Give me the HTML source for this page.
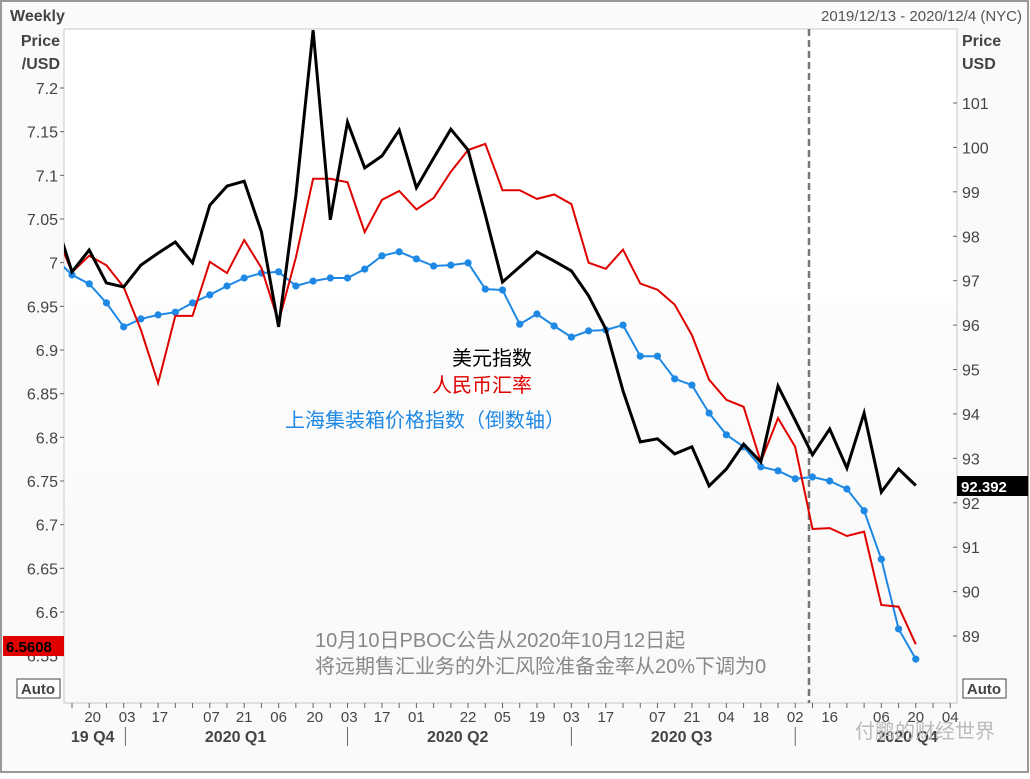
<!DOCTYPE html>
<html><head><meta charset="utf-8"><style>
html,body{margin:0;padding:0;background:#fff}
body{width:1030px;height:774px;overflow:hidden;font-family:"Liberation Sans","Noto Sans CJK SC",sans-serif}
</style></head><body>
<svg id="chart" width="1030" height="774" xmlns="http://www.w3.org/2000/svg" font-family="Liberation Sans, Noto Sans CJK SC, sans-serif">
<defs>
<linearGradient id="bg" x1="0" y1="0" x2="0" y2="1"><stop offset="0" stop-color="#ffffff"/><stop offset="0.4" stop-color="#ffffff"/><stop offset="0.42" stop-color="#fcfcfc"/><stop offset="1" stop-color="#f9f9f9"/></linearGradient>
<clipPath id="plotclip"><rect x="64" y="29" width="893" height="674"/></clipPath>
</defs>
<rect x="0" y="0" width="1030" height="774" fill="#fafafa"/>
<rect x="1" y="1" width="1027" height="771" fill="none" stroke="#999" stroke-width="2"/>
<rect x="64" y="29" width="893" height="674" fill="url(#bg)" stroke="#c8c8c8"/>
<text x="10" y="21" font-size="16" font-weight="bold" fill="#444">Weekly</text>
<text x="1022" y="21" font-size="15" fill="#555" text-anchor="end">2019/12/13 - 2020/12/4 (NYC)</text>
<text x="60" y="46" font-size="16" font-weight="bold" fill="#444" text-anchor="end">Price</text>
<text x="60" y="69" font-size="16" font-weight="bold" fill="#444" text-anchor="end">/USD</text>
<text x="962" y="46" font-size="16" font-weight="bold" fill="#444">Price</text>
<text x="962" y="69" font-size="16" font-weight="bold" fill="#444">USD</text>
<g id="axes"></g>
<line x1="809" y1="29" x2="809" y2="703" stroke="#777" stroke-width="2.5" stroke-dasharray="7,4"/>
<g id="series" clip-path="url(#plotclip)"></g>
<text x="532" y="365" font-size="20" fill="#000" text-anchor="end">美元指数</text>
<text x="532" y="392" font-size="20" fill="#e00000" text-anchor="end">人民币汇率</text>
<text x="565" y="427" font-size="20" fill="#1e88e5" text-anchor="end">上海集装箱价格指数（倒数轴）</text>
<text x="315" y="647" font-size="20" fill="#888">10月10日PBOC公告从2020年10月12日起</text>
<text x="315" y="673" font-size="20" fill="#888">将远期售汇业务的外汇风险准备金率从20%下调为0</text>
<rect x="3" y="636" width="61" height="20" fill="#e00000"/>
<text x="6" y="652" font-size="15" font-weight="bold" fill="#000">6.5608</text>
<rect x="957" y="476" width="71" height="20" fill="#000"/>
<text x="961" y="492" font-size="15" font-weight="bold" fill="#fff">92.392</text>
<rect x="17" y="679" width="43" height="19" fill="#fff" stroke="#444"/>
<text x="38" y="694" font-size="15" font-weight="bold" fill="#444" text-anchor="middle">Auto</text>
<rect x="963" y="679" width="43" height="19" fill="#fff" stroke="#444"/>
<text x="984" y="694" font-size="15" font-weight="bold" fill="#444" text-anchor="middle">Auto</text>
<text x="995" y="738" font-size="20" fill="#bbb" text-anchor="end">付鹏的财经世界</text>
</svg>
<script>
const leftTicks=[7.2,7.15,7.1,7.05,7,6.95,6.9,6.85,6.8,6.75,6.7,6.65,6.6,6.55];
const rightTicks=[101,100,99,98,97,96,95,94,93,92,91,90,89];
const weekLabels=["20","03","17","07","21","06","20","03","17","01","22","05","19","03","17","07","21","04","18","02","16","06","20","04"];
const weekLabelPos=[2.2,4.2,6.1,9.1,11,13,15.1,17.1,19,21,24,26,28,30,32,35,37,39,41,43,45,48,50,52];
const quarterLabels=["19 Q4","2020 Q1","2020 Q2","2020 Q3","2020 Q4"];
const quarterPos=[2.2,10.5,23.4,36.4,49.5];
const quarterSep=[4.1,17,30,43];
const dxy=[98.41,97.20,97.69,96.95,96.86,97.35,97.62,97.87,97.40,98.70,99.13,99.24,98.10,95.96,98.93,102.64,98.37,100.57,99.54,99.81,100.39,99.09,99.76,100.41,99.94,98.48,96.97,97.31,97.65,97.44,97.22,96.66,95.91,94.52,93.37,93.44,93.10,93.26,92.38,92.76,93.32,92.92,94.63,93.86,93.08,93.66,92.78,94.02,92.24,92.76,92.39];
const cny=[7.037,6.989,7.008,6.997,6.972,6.923,6.862,6.939,6.939,7.001,6.988,7.026,6.994,6.932,7.006,7.096,7.096,7.092,7.035,7.072,7.082,7.061,7.074,7.104,7.129,7.136,7.083,7.083,7.073,7.078,7.067,7.000,6.993,7.015,6.976,6.969,6.952,6.917,6.866,6.843,6.835,6.772,6.822,6.789,6.695,6.696,6.687,6.692,6.608,6.606,6.563];
const scfiInv=[97.51,97.13,96.93,96.50,95.96,96.14,96.23,96.29,96.50,96.68,96.88,97.06,97.17,97.20,96.88,96.99,97.06,97.06,97.26,97.56,97.65,97.49,97.33,97.35,97.40,96.81,96.79,96.02,96.25,95.98,95.73,95.87,95.89,96.00,95.30,95.30,94.79,94.65,94.02,93.53,93.26,92.81,92.72,92.54,92.58,92.49,92.31,91.82,90.73,89.16,88.48];

const NS="http://www.w3.org/2000/svg";
function xAt(i){return 72+17.22*(i-1);}
function yL(v){return 88+(7.2-v)*873.3;}
function yR(v){return 103+(101-v)*44.42;}
function mk(tag,attrs,parent){const e=document.createElementNS(NS,tag);for(const k in attrs)e.setAttribute(k,attrs[k]);parent.appendChild(e);return e;}
const axes=document.getElementById('axes');
const series=document.getElementById('series');
leftTicks.forEach(v=>{
  const t=mk('text',{x:58,y:yL(v)+6,'font-size':16,fill:'#444','text-anchor':'end'},axes);
  
  
  t.textContent=String(v);
  mk('line',{x1:60,x2:64,y1:yL(v),y2:yL(v),stroke:'#666'},axes);
});
rightTicks.forEach(v=>{
  const t=mk('text',{x:962,y:yR(v)+6,'font-size':16,fill:'#444'},axes);
  
  
  t.textContent=String(v);
  mk('line',{x1:953,x2:957,y1:yR(v),y2:yR(v),stroke:'#666'},axes);
});
for(let i=0;i<=53;i++){const x=xAt(i);if(x>64&&x<957)mk('line',{x1:x,x2:x,y1:703,y2:708,stroke:'#666'},axes);}
weekLabels.forEach((s,i)=>{
  const t=mk('text',{x:xAt(weekLabelPos[i]),y:722,'font-size':15,fill:'#444','text-anchor':'middle'},axes);
  
  
  t.textContent=s;
});
quarterLabels.forEach((s,i)=>{
  const t=mk('text',{x:xAt(quarterPos[i]),y:742,'font-size':16,'font-weight':'bold',fill:'#444','text-anchor':'middle'},axes);
  
  
  t.textContent=s;
});
quarterSep.forEach(q=>{mk('line',{x1:xAt(q),x2:xAt(q),y1:727,y2:746,stroke:'#666'},axes);});
function line(vals,yf,color,w,name){
  const d=vals.map((v,i)=>(i?'L':'M')+xAt(i).toFixed(1)+','+yf(v).toFixed(1)).join(' ');
  const p=mk('path',{d:d,fill:'none',stroke:color,'stroke-width':w,'stroke-linejoin':'miter'},series);
  
  
}
line(scfiInv,yR,'#1e88e5',2,'scfi-line');
scfiInv.forEach((v,i)=>{if(i===0)return;
  const c=mk('circle',{cx:xAt(i),cy:yR(v),r:3.6,fill:'#1e88e5'},series);
  
  
});
line(cny,yL,'#e00000',2,'cny-line');
line(dxy,yR,'#000',3,'dxy-line');
</script>
</body></html>
